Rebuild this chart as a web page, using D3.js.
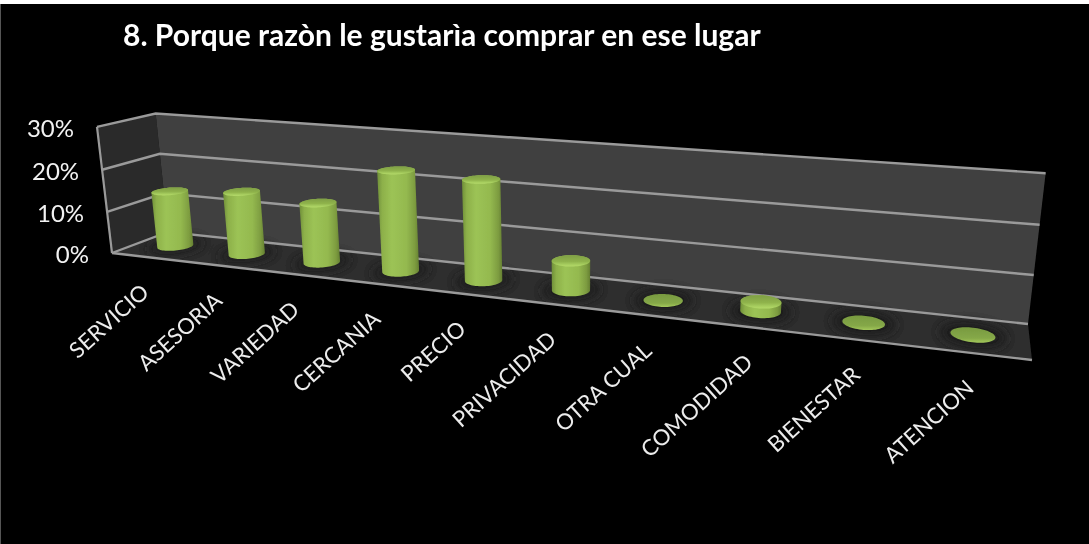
<!DOCTYPE html>
<html><head><meta charset="utf-8">
<script src="https://cdn.jsdelivr.net/npm/d3@7"></script>
<style>html,body{margin:0;padding:0;background:#000;overflow:hidden}svg{display:block}text{font-family:Lato,"Open Sans",sans-serif}</style>
</head><body><svg id="c" width="1089" height="544"></svg>
<script>
const title = "8. Porque razòn le gustarìa comprar en ese lugar";
const categories = ["SERVICIO","ASESORIA","VARIEDAD","CERCANIA","PRECIO","PRIVACIDAD","OTRA CUAL","COMODIDAD","BIENESTAR","ATENCION"];
const values = [13.5,15,14,23,22.5,6.5,0,2,0,0];
const ticks = [0,10,20,30];

// floor plane corners and the vanishing point of the vertical axis
const floorQuad = [[112,253],[1032,360],[1028,324],[168,232]];
const vertVP = [578,4171], vertI = -0.0312;
function homography(q){
  const [[x0,y0],[x1,y1],[x2,y2],[x3,y3]] = q;
  const dx1=x1-x2,dx2=x3-x2,sx=x0-x1+x2-x3,dy1=y1-y2,dy2=y3-y2,sy=y0-y1+y2-y3;
  const det=dx1*dy2-dx2*dy1, g=(sx*dy2-dx2*sy)/det, h=(dx1*sy-sx*dy1)/det;
  const a=x1-x0+g*x1,b=x3-x0+h*x3,d=y1-y0+g*y1,e=y3-y0+h*y3;
  return (u,w,t)=>{const n=vertI*t,k=g*u+h*w+1+n;
    return [(a*u+b*w+x0+n*vertVP[0])/k,(d*u+e*w+y0+n*vertVP[1])/k];};
}
const H=homography(floorQuad);
const xScale=d3.scaleBand().domain(categories).range([0,1]);
const vScale=d3.scaleLinear().domain([0,30]).range([0,1]);
const P=(u,w,val)=>H(u,w,vScale(val));
const line=d3.line().curve(d3.curveLinearClosed);
const rU=xScale.bandwidth()*0.2;
const rW=0.21;

const svg=d3.select("#c");
svg.append("rect").attr("width",1089).attr("height",544).attr("fill","#000");
const defs=svg.append("defs");
const blur=(id,s)=>defs.append("filter").attr("id",id).attr("x","-60%").attr("y","-100%").attr("width","220%").attr("height","300%").append("feGaussianBlur").attr("stdDeviation",s);
blur("soft",0.6);blur("shadow",6);blur("textsoft",0.35);
const grad=(id,x2,y2,stops)=>{const g=defs.append("linearGradient").attr("id",id).attr("x1",0).attr("y1",0).attr("x2",x2).attr("y2",y2);
  stops.forEach(s=>g.append("stop").attr("offset",s[0]).attr("stop-color",s[1]));};
grad("body",1,0,[[0,"#6f8f38"],[0.12,"#8db04a"],[0.35,"#9cc355"],[0.7,"#94b94f"],[0.9,"#7d9c40"],[1,"#647f31"]]);
grad("cap",0,1,[[0,"#7f9f44"],[0.55,"#8fb34c"],[0.85,"#a9d060"],[1,"#b4d96a"]]);
grad("disc",0,1,[[0,"#789a40"],[0.7,"#85a848"],[1,"#a3c85a"]]);

const g=svg.append("g").attr("filter","url(#soft)");
const poly=pts=>g.append("path").attr("d",line(pts));
poly([P(0,0,0),P(0,0,30),P(0,1,30),P(0,1,0)]).attr("fill","#2b2b2b");
poly([P(0,1,0),P(0,1,30),P(1,1,30),P(1,1,0)]).attr("fill","#404040");
poly([P(0,0,0),P(1,0,0),P(1,1,0),P(0,1,0)]).attr("fill","#2e2e2e");

// floor shadows
categories.forEach(c=>{
  const uc=xScale(c)+xScale.bandwidth()/2;
  g.append("path").attr("d",line(d3.range(64).map(i=>{const a=i/64*2*Math.PI;return P(uc+rU*1.5*Math.cos(a),0.5+0.36*Math.sin(a),0);})))
   .attr("fill","#1b1b1b").attr("filter","url(#shadow)");
});

// grid lines
const seg=(pts,w)=>g.append("path").attr("d",d3.line()(pts)).attr("fill","none").attr("stroke","#9a9a9a").attr("stroke-width",w);
ticks.forEach(t=>seg([P(0,0,t),P(0,1,t),P(1,1,t)],2.4));
seg([P(0,0,0),P(0,0,30)],2.2);
seg([P(0,0,0),P(1,0,0)],2.4);

const circle=(uc,val)=>d3.range(64).map(i=>{const a=i/64*2*Math.PI;return P(uc+rU*Math.cos(a),0.5+rW*Math.sin(a),val);});

// cylinders
categories.forEach((c,i)=>{
  const uc=xScale(c)+xScale.bandwidth()/2, v=values[i];
  const bottom=circle(uc,0), top=circle(uc,v);
  if(v>0){
    g.append("path").attr("d",line(d3.polygonHull(bottom.concat(top)))).attr("fill","url(#body)");
    g.append("path").attr("d",line(top)).attr("fill","url(#cap)");
  } else {
    g.append("path").attr("d",line(top)).attr("fill","url(#disc)");
  }
});

const t=svg.append("g").attr("filter","url(#textsoft)");
// value labels
t.selectAll("text.v").data(ticks).join("text").attr("class","v")
  .attr("x",d=>P(0,0,d)[0]-23).attr("y",d=>P(0,0,d)[1]+10)
  .attr("text-anchor","end").attr("fill","#f2f2f2").attr("font-size",24).text(d=>d+"%");

// category labels
t.selectAll("text.c").data(categories).join("text").attr("class","c")
  .attr("text-anchor","end").attr("fill","#ececec").attr("font-size",22)
  .attr("transform",d=>{const p=P(xScale(d)+xScale.bandwidth()/2,0,0);return `translate(${p[0]+3},${p[1]+37}) rotate(-42)`;})
  .text(d=>d);

t.append("text").attr("x",123).attr("y",46).attr("fill","#fff").attr("font-size",30).attr("font-weight",700).text(title);

// picture edge
svg.append("rect").attr("width",1089).attr("height",4).attr("fill","#fff");
svg.append("rect").attr("y",4).attr("width",1).attr("height",540).attr("fill","#555");
</script></body></html>
